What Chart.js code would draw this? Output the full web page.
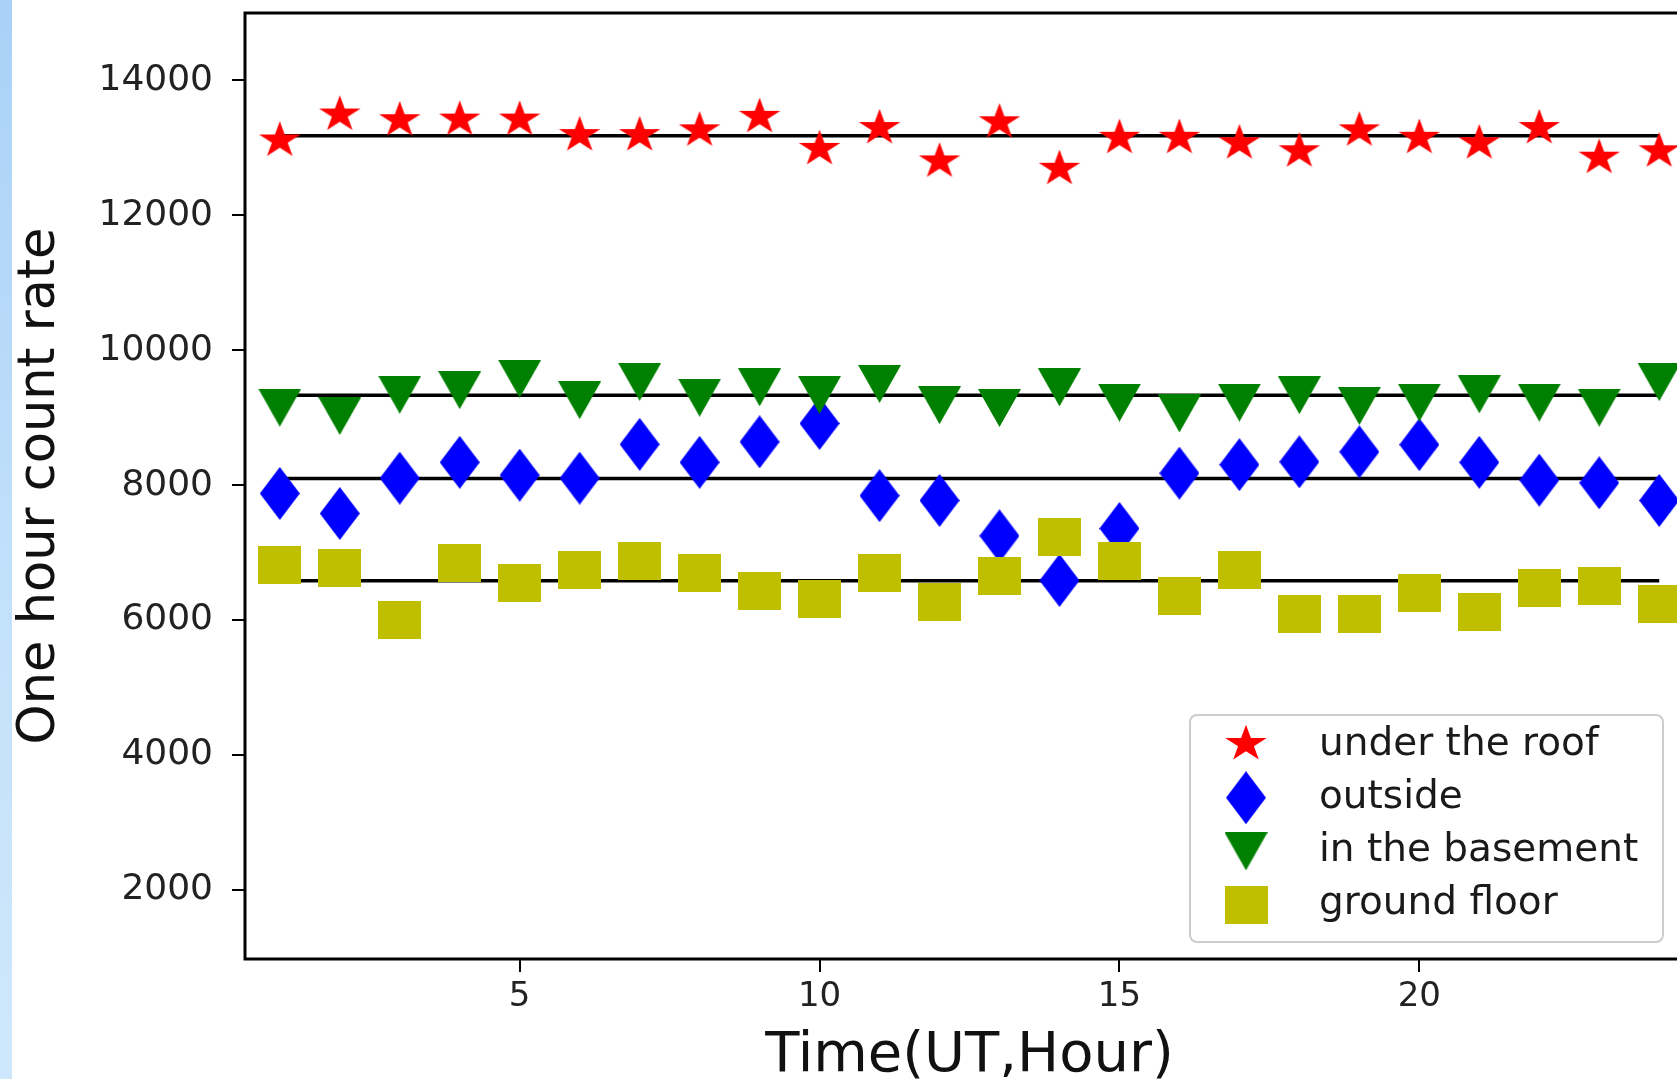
<!DOCTYPE html>
<html>
<head>
<meta charset="utf-8">
<script src="https://cdn.jsdelivr.net/npm/chart.js@4.4.1/dist/chart.umd.min.js"></script>
<style>
  html, body { margin: 0; padding: 0; background: #fff; overflow: hidden; width: 1677px; height: 1079px; }
  #strip { position: absolute; left: 0; top: 0; width: 12px; height: 1079px; z-index: 2;
           background: linear-gradient(#a9d1f7, #c4e2fb 60%, #cfe7fb); }
  #chart { position: absolute; left: 0; top: 0; }
</style>
</head>
<body>
<div id="strip"></div>
<canvas id="chart" width="1700" height="1100"></canvas>
<script>
// hour of day (UT)
const hours = [1, 2, 3, 4, 5, 6, 7, 8, 9, 10, 11, 12, 13, 14, 15, 16, 17, 18, 19, 20, 21, 22, 23, 24];
const xTickValues = [5, 10, 15, 20];
const yTickValues = [2000, 4000, 6000, 8000, 10000, 12000, 14000];

// one hour count rates
const underRoof = [13110, 13495, 13410, 13420, 13420, 13190, 13190, 13260, 13460, 12985, 13295, 12800,
                   13380, 12690, 13150, 13150, 13070, 12950, 13260, 13150, 13070, 13295, 12855, 12950];
const outside = [7877, 7580, 8104, 8338, 8148, 8104, 8605, 8338, 8642, 8915, 7844, 7773,
                 7249, 6587, 7358, 8178, 8304, 8346, 8494, 8600, 8338, 8074, 8034, 7773];
const basement = [9149, 9026, 9341, 9408, 9576, 9260, 9531, 9297, 9450, 9338, 9500, 9186,
                  9144, 9450, 9223, 9063, 9223, 9334, 9174, 9223, 9346, 9223, 9149, 9527];
const groundFloor = [6811, 6773, 6006, 6851, 6543, 6737, 6881, 6693, 6432, 6307, 6693, 6270,
                     6654, 7226, 6881, 6358, 6737, 6085, 6085, 6396, 6122, 6469, 6506, 6239];

// mean levels (black lines)
const lineSpan = [1, 24];
const meanRoof = 13182;
const meanOutside = 8100;
const meanBasement = 9334;
const meanGround = 6582;

const seriesNames = ['under the roof', 'outside', 'in the basement', 'ground floor'];

// matplotlib-like marker shapes as small canvases
function makeMarker(kind, color) {
  const c = document.createElement('canvas');
  if (kind === 'star') { c.width = 44; c.height = 42; }
  else if (kind === 'diamond') { c.width = 40; c.height = 53; }
  else { c.width = 43; c.height = 38; }
  const ctx = c.getContext('2d');
  ctx.fillStyle = color;
  ctx.beginPath();
  if (kind === 'star') {
    const cx = 22, cy = 21, r = 19.3, ri = r * 0.382, sx = 1.13;
    for (let i = 0; i < 10; i++) {
      const a = i * Math.PI / 5;
      const rr = i % 2 ? ri : r;
      const px = cx + sx * rr * Math.sin(a), py = cy - rr * Math.cos(a);
      if (i) ctx.lineTo(px, py); else ctx.moveTo(px, py);
    }
  } else if (kind === 'diamond') {
    ctx.moveTo(20, 0); ctx.lineTo(40, 26.5); ctx.lineTo(20, 53); ctx.lineTo(0, 26.5);
  } else if (kind === 'tridown') {
    ctx.moveTo(0, 0); ctx.lineTo(43, 0); ctx.lineTo(21.5, 38);
  } else {
    ctx.rect(0, 0, 43, 38);
  }
  ctx.closePath();
  ctx.fill();
  return c;
}

const markers = [
  makeMarker('star', '#ff0000'),
  makeMarker('diamond', '#0000ff'),
  makeMarker('tridown', '#008000'),
  makeMarker('square', '#bfbf00')
];

const pts = ys => hours.map((h, i) => ({x: h, y: ys[i]}));
const flat = m => lineSpan.map(x => ({x: x, y: m}));

function meanLine(m) {
  return {data: flat(m), showLine: true, borderColor: '#000', borderWidth: 3.5,
          pointRadius: 0, pointHoverRadius: 0, fill: false, order: 10};
}
function markerSet(label, ys, idx) {
  return {label: label, data: pts(ys), showLine: false, pointStyle: markers[idx],
          pointRadius: 20, pointHoverRadius: 20, order: 4 - idx};
}

// no extra room for the end labels: the frame is placed exactly
function noPad(s) {
  s.paddingTop = 0; s.paddingBottom = 0; s.paddingLeft = 0; s.paddingRight = 0;
}

// frame round the plot and legend box in the lower right
const frameAndLegend = {
  id: 'frameAndLegend',
  afterDraw(chart) {
    const {ctx, chartArea: ca} = chart;
    ctx.save();
    ctx.strokeStyle = '#000';
    ctx.lineWidth = 3;
    ctx.strokeRect(ca.left, ca.top, ca.right - ca.left, ca.bottom - ca.top);

    const w = 473, h = 227;
    const bx = ca.right - 31 - w, by = ca.bottom - 17 - h;
    ctx.beginPath();
    ctx.roundRect(bx, by, w, h, 7);
    ctx.fillStyle = 'rgba(255,255,255,0.8)';
    ctx.fill();
    ctx.strokeStyle = '#cccccc';
    ctx.lineWidth = 2;
    ctx.stroke();

    ctx.font = '39px "DejaVu Sans"';
    ctx.fillStyle = '#1a1a1a';
    ctx.textBaseline = 'alphabetic';
    seriesNames.forEach((name, i) => {
      const m = markers[i];
      ctx.drawImage(m, bx + 56 - m.width / 2, by + 29 + i * 53.7 - m.height / 2);
      ctx.fillText(name, bx + 129, by + 40 + i * 53);
    });
    ctx.restore();
  }
};

new Chart(document.getElementById('chart'), {
  type: 'scatter',
  data: {
    datasets: [
      meanLine(meanRoof),
      meanLine(meanBasement),
      meanLine(meanOutside),
      meanLine(meanGround),
      markerSet(seriesNames[0], underRoof, 0),
      markerSet(seriesNames[1], outside, 1),
      markerSet(seriesNames[2], basement, 2),
      markerSet(seriesNames[3], groundFloor, 3)
    ]
  },
  options: {
    responsive: false,
    animation: false,
    devicePixelRatio: 1,
    layout: {autoPadding: false, padding: {top: 13, right: 6, bottom: 0, left: 0}},
    plugins: {
      legend: {display: false},
      tooltip: {enabled: false}
    },
    scales: {
      x: {
        type: 'linear',
        min: 0.42,
        max: 24.58,
        afterBuildTicks: s => { s.ticks = xTickValues.map(v => ({value: v})); },
        afterFit: s => { s.height = 141; noPad(s); },
        grid: {display: true, drawOnChartArea: false, drawTicks: true, tickLength: 13, color: '#000', lineWidth: 2},
        border: {display: false},
        ticks: {font: {family: 'DejaVu Sans', size: 34}, color: '#222', padding: 5, maxRotation: 0, autoSkip: false,
                callback: v => String(v)},
        title: {display: true, text: 'Time(UT,Hour)', color: '#111',
                font: {family: 'DejaVu Sans', size: 56}, padding: {top: 0, bottom: 10}}
      },
      y: {
        type: 'linear',
        min: 975,
        max: 15000,
        afterBuildTicks: s => { s.ticks = yTickValues.map(v => ({value: v})); },
        afterFit: s => { s.width = 245; noPad(s); },
        grid: {display: true, drawOnChartArea: false, drawTicks: true, tickLength: 13, color: '#000', lineWidth: 2},
        border: {display: false},
        ticks: {font: {family: 'DejaVu Sans', size: 36}, color: '#222', padding: 19, autoSkip: false,
                callback: v => String(v)},
        title: {display: true, text: 'One hour count rate', color: '#111',
                font: {family: 'DejaVu Sans', size: 51}, padding: {top: 10, bottom: 0}}
      }
    }
  },
  plugins: [frameAndLegend]
});
</script>
</body>
</html>
